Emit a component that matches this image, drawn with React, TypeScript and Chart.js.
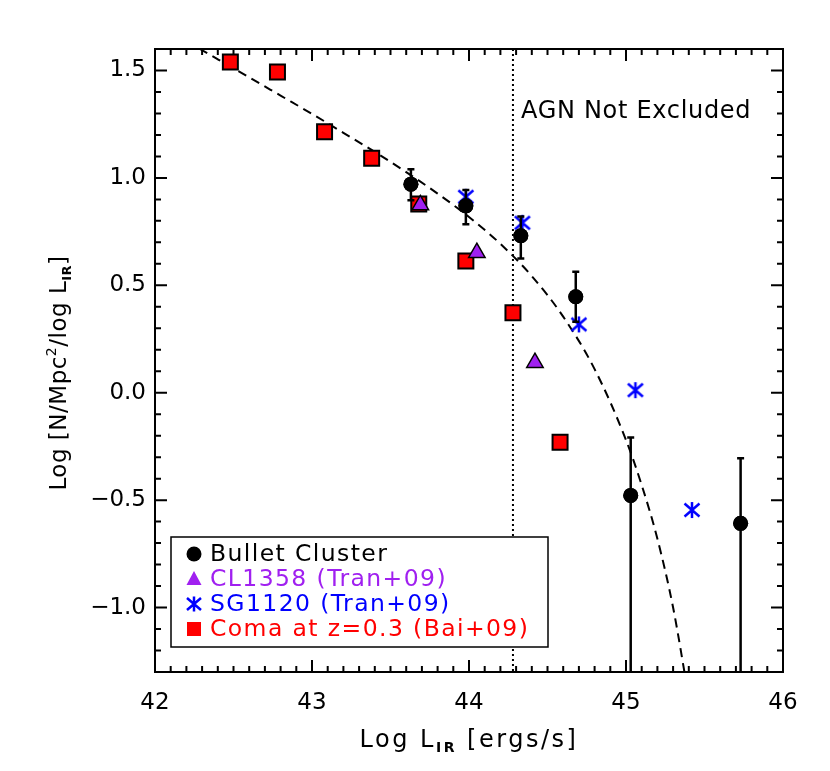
import React, { useEffect, useRef } from 'react';
import { Chart, registerables } from 'chart.js';

Chart.register(...registerables);

// ---------- data ----------
const bulletX = [43.63, 43.98, 44.33, 44.68, 45.03, 45.73];
const bulletY = [0.971, 0.87, 0.731, 0.447, -0.478, -0.608];
const bulletErrHigh = [1.04, 0.944, 0.82, 0.563, -0.208, -0.305];
const bulletErrLow = [0.896, 0.784, 0.625, 0.33, -2.0, -2.0];

const cl1358X = [43.69, 44.05, 44.42];
const cl1358Y = [0.874, 0.652, 0.14];

const sg1120X = [43.98, 44.34, 44.7, 45.06, 45.42];
const sg1120Y = [0.912, 0.791, 0.318, 0.012, -0.546];

const comaX = [42.48, 42.78, 43.08, 43.38, 43.68, 43.98, 44.28, 44.58];
const comaY = [1.54, 1.493, 1.215, 1.091, 0.878, 0.613, 0.372, -0.231];

const fitX = [42.2, 42.4, 42.6, 42.8, 43.0, 43.2, 43.4, 43.6, 43.8, 44.0, 44.2, 44.4, 44.6, 44.8, 45.0, 45.1, 45.2, 45.3, 45.4];
const fitY = [1.636, 1.552, 1.468, 1.383, 1.298, 1.21, 1.121, 1.027, 0.927, 0.818, 0.693, 0.543, 0.354, 0.11, -0.22, -0.43, -0.68, -1.0, -1.42];

const agnCutX = 44.28;
const agnLabel = 'AGN Not Excluded';

const xTicks = [42, 43, 44, 45, 46];
const xTickLabels = ['42', '43', '44', '45', '46'];
const yTicks = [-1.0, -0.5, 0.0, 0.5, 1.0, 1.5];
const yTickLabels = ['\u22121.0', '\u22120.5', '0.0', '0.5', '1.0', '1.5'];

const legendLabels = ['Bullet Cluster', 'CL1358 (Tran+09)', 'SG1120 (Tran+09)', 'Coma at z=0.3 (Bai+09)'];

const X_MIN = 42, X_MAX = 46, Y_MIN = -1.3, Y_MAX = 1.6;

const FONT = '"DejaVu Sans", sans-serif';
const PURPLE = '#a020f0';
const BLUE = '#0000ff';
const RED = '#ff0000';

function asteriskPath(g: CanvasRenderingContext2D, cx: number, cy: number, h: number, w: number, d: number) {
  g.moveTo(cx, cy - h);
  g.lineTo(cx, cy + h);
  g.moveTo(cx - w, cy - d);
  g.lineTo(cx + w, cy + d);
  g.moveTo(cx - w, cy + d);
  g.lineTo(cx + w, cy - d);
}

function makeAsterisk(color: string, lw: number) {
  const c = document.createElement('canvas');
  const s = 22;
  c.width = s;
  c.height = s;
  const g = c.getContext('2d')!;
  g.strokeStyle = color;
  g.lineWidth = lw;
  g.beginPath();
  asteriskPath(g, s / 2, s / 2, 8, 7.5, 6.5);
  g.stroke();
  return c;
}

type Seg = { t: string; size: number; dy: number; bold?: boolean };

function drawRich(ctx: CanvasRenderingContext2D, segs: Seg[], cx: number, y: number, spacing: number) {
  let total = 0;
  const widths: number[] = [];
  (ctx as any).letterSpacing = `${spacing}px`;
  segs.forEach((s) => {
    ctx.font = `${s.bold ? 'bold ' : ''}${s.size}px ${FONT}`;
    const w = ctx.measureText(s.t).width;
    widths.push(w);
    total += w;
  });
  let x = cx - total / 2;
  segs.forEach((s, i) => {
    ctx.font = `${s.bold ? 'bold ' : ''}${s.size}px ${FONT}`;
    ctx.fillText(s.t, x, y + s.dy);
    x += widths[i];
  });
  (ctx as any).letterSpacing = '0px';
}

const overlayPlugin = {
  id: 'overlay',
  beforeDatasetsDraw(chart: any) {
    const { ctx, chartArea: a, scales } = chart;
    const xs = scales.x;
    ctx.save();
    const px = xs.getPixelForValue(agnCutX);
    ctx.strokeStyle = '#000';
    ctx.lineWidth = 2;
    ctx.setLineDash([2, 3]);
    ctx.beginPath();
    ctx.moveTo(px, a.top);
    ctx.lineTo(px, a.bottom);
    ctx.stroke();
    ctx.setLineDash([]);
    ctx.restore();
  },
  afterDatasetsDraw(chart: any) {
    const { ctx, chartArea: a, scales } = chart;
    const xs = scales.x, ys = scales.y;
    ctx.save();
    ctx.beginPath();
    ctx.rect(a.left, a.top, a.right - a.left, a.bottom - a.top);
    ctx.clip();
    ctx.strokeStyle = '#000';
    ctx.lineWidth = 2.5;
    bulletX.forEach((xv, i) => {
      const px = xs.getPixelForValue(xv);
      const pHi = ys.getPixelForValue(bulletErrHigh[i]);
      const pLo = ys.getPixelForValue(bulletErrLow[i]);
      ctx.beginPath();
      ctx.moveTo(px, pHi);
      ctx.lineTo(px, pLo);
      ctx.moveTo(px - 3.5, pHi);
      ctx.lineTo(px + 3.5, pHi);
      ctx.moveTo(px - 3.5, pLo);
      ctx.lineTo(px + 3.5, pLo);
      ctx.stroke();
    });
    ctx.fillStyle = '#000';
    bulletX.forEach((xv, i) => {
      ctx.beginPath();
      ctx.arc(xs.getPixelForValue(xv), ys.getPixelForValue(bulletY[i]), 7.5, 0, Math.PI * 2);
      ctx.fill();
    });
    ctx.restore();
  },
  afterDraw(chart: any) {
    const { ctx, chartArea: a, scales } = chart;
    const xs = scales.x, ys = scales.y;
    ctx.save();
    // frame
    ctx.strokeStyle = '#000';
    ctx.lineWidth = 2;
    ctx.strokeRect(a.left, a.top, a.right - a.left, a.bottom - a.top);
    // ticks on all four sides, pointing inward
    ctx.beginPath();
    for (let k = 0; k <= 40; k++) {
      const v = X_MIN + k / 10;
      const px = xs.getPixelForValue(v);
      const len = k % 10 === 0 ? 12 : 6;
      ctx.moveTo(px, a.bottom);
      ctx.lineTo(px, a.bottom - len);
      ctx.moveTo(px, a.top);
      ctx.lineTo(px, a.top + len);
    }
    for (let k = -13; k <= 16; k++) {
      const v = k / 10;
      const py = ys.getPixelForValue(v);
      const len = k % 5 === 0 ? 12 : 6;
      ctx.moveTo(a.left, py);
      ctx.lineTo(a.left + len, py);
      ctx.moveTo(a.right, py);
      ctx.lineTo(a.right - len, py);
    }
    ctx.stroke();

    // AGN label
    ctx.fillStyle = '#000';
    ctx.font = `24px ${FONT}`;
    (ctx as any).letterSpacing = '0.7px';
    ctx.textAlign = 'left';
    ctx.textBaseline = 'middle';
    ctx.fillText(agnLabel, xs.getPixelForValue(agnCutX) + 8, ys.getPixelForValue(1.31));
    (ctx as any).letterSpacing = '0px';

    // axis titles
    ctx.textAlign = 'left';
    ctx.textBaseline = 'alphabetic';
    drawRich(ctx, [
      { t: 'Log L', size: 24, dy: 0 },
      { t: 'IR', size: 14, dy: 5, bold: true },
      { t: ' [ergs/s]', size: 24, dy: 0 },
    ], (a.left + a.right) / 2, 747, 2.5);

    ctx.save();
    ctx.translate(66, 373);
    ctx.rotate(-Math.PI / 2);
    drawRich(ctx, [
      { t: 'Log [N/Mpc', size: 23, dy: 0 },
      { t: '2', size: 14, dy: -10 },
      { t: '/log L', size: 23, dy: 0 },
      { t: 'IR', size: 13, dy: 5, bold: true },
      { t: ']', size: 23, dy: 0 },
    ], 0, 0, 0.5);
    ctx.restore();

    // legend
    const bx = a.left + 16, by = a.bottom - 135, bw = 377, bh = 110;
    ctx.fillStyle = '#fff';
    ctx.fillRect(bx, by, bw, bh);
    ctx.strokeStyle = '#000';
    ctx.lineWidth = 1.5;
    ctx.strokeRect(bx, by, bw, bh);
    const colors = ['#000', PURPLE, BLUE, RED];
    const sx = bx + 23;
    ctx.textBaseline = 'middle';
    legendLabels.forEach((lab, i) => {
      const cy = by + 17 + i * 25;
      ctx.fillStyle = colors[i];
      ctx.strokeStyle = colors[i];
      if (i === 0) {
        ctx.beginPath();
        ctx.arc(sx, cy, 7.5, 0, Math.PI * 2);
        ctx.fill();
      } else if (i === 1) {
        ctx.beginPath();
        ctx.moveTo(sx, cy - 8);
        ctx.lineTo(sx + 7.5, cy + 6);
        ctx.lineTo(sx - 7.5, cy + 6);
        ctx.closePath();
        ctx.fill();
      } else if (i === 2) {
        ctx.lineWidth = 2.5;
        ctx.beginPath();
        asteriskPath(ctx, sx, cy, 7.5, 7, 6);
        ctx.stroke();
      } else {
        ctx.fillRect(sx - 7, cy - 7, 14, 14);
      }
      ctx.font = `23.5px ${FONT}`;
      (ctx as any).letterSpacing = '1.4px';
      ctx.fillText(lab, sx + 16, cy + 1);
      (ctx as any).letterSpacing = '0px';
    });
    ctx.restore();
  },
};

export default function App() {
  const ref = useRef<HTMLCanvasElement | null>(null);

  useEffect(() => {
    document.body.style.margin = '0';
    const canvas = ref.current!;
    const star = makeAsterisk(BLUE, 2.5);

    const chart = new Chart(canvas, {
      type: 'scatter',
      data: {
        datasets: [
          {
            label: legendLabels[0],
            data: bulletX.map((x, i) => ({ x, y: bulletY[i] })),
            pointStyle: 'circle',
            pointRadius: 7.5,
            backgroundColor: '#000',
            borderColor: '#000',
            borderWidth: 0,
            order: 0,
          },
          {
            label: legendLabels[2],
            data: sg1120X.map((x, i) => ({ x, y: sg1120Y[i] })),
            pointStyle: star as any,
            pointRadius: 8,
            order: 1,
          },
          {
            label: legendLabels[1],
            data: cl1358X.map((x, i) => ({ x, y: cl1358Y[i] })),
            pointStyle: 'triangle',
            pointRadius: 9.5,
            backgroundColor: PURPLE,
            borderColor: '#000',
            borderWidth: 1.5,
            order: 2,
          },
          {
            label: legendLabels[3],
            data: comaX.map((x, i) => ({ x, y: comaY[i] })),
            pointStyle: 'rect',
            pointRadius: 10.6,
            backgroundColor: RED,
            borderColor: '#000',
            borderWidth: 2,
            order: 3,
          },
          {
            label: 'fit',
            type: 'line' as any,
            data: fitX.map((x, i) => ({ x, y: fitY[i] })),
            showLine: true,
            pointRadius: 0,
            borderColor: '#000',
            borderWidth: 2,
            borderDash: [9, 6],
            cubicInterpolationMode: 'monotone',
            fill: false,
            order: 4,
          } as any,
        ],
      },
      options: {
        responsive: false,
        animation: false,
        events: [],
        layout: { padding: { top: 49, right: 47, left: 0, bottom: 0 } },
        plugins: { legend: { display: false }, tooltip: { enabled: false } },
        scales: {
          x: {
            type: 'linear',
            min: X_MIN,
            max: X_MAX,
            afterFit: (s: any) => { s.height = 99; },
            afterBuildTicks: (s: any) => { s.ticks = xTicks.map((v) => ({ value: v })); },
            grid: { display: false, drawTicks: false },
            border: { display: false },
            ticks: {
              color: '#000',
              font: { family: FONT, size: 23 },
              padding: 17,
              maxRotation: 0,
              autoSkip: false,
              callback: (_v: any, i: number) => xTickLabels[i],
            },
          },
          y: {
            type: 'linear',
            min: Y_MIN,
            max: Y_MAX,
            afterFit: (s: any) => { s.width = 155; },
            afterBuildTicks: (s: any) => { s.ticks = yTicks.map((v) => ({ value: v })); },
            grid: { display: false, drawTicks: false },
            border: { display: false },
            ticks: {
              color: '#000',
              font: { family: FONT, size: 23 },
              padding: 9,
              autoSkip: false,
              callback: (_v: any, i: number) => yTickLabels[i],
            },
          },
        },
      },
      plugins: [overlayPlugin],
    });
    return () => chart.destroy();
  }, []);

  return <canvas ref={ref} width={830} height={771} style={{ display: 'block', width: 830, height: 771 }} />;
}
